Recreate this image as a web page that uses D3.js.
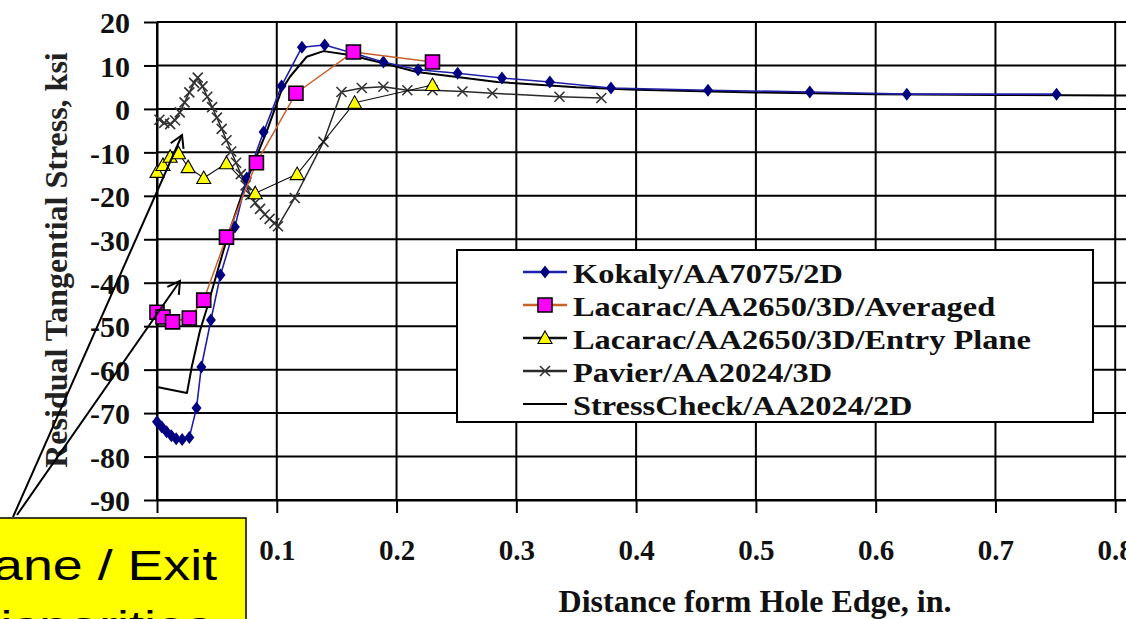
<!DOCTYPE html>
<html>
<head>
<meta charset="utf-8">
<script src="https://cdn.jsdelivr.net/npm/d3@7"></script>
<style>
  html, body { margin: 0; padding: 0; background: #fff; overflow: hidden; }
  svg { display: block; }
</style>
</head>
<body>
<svg id="chart" width="1126" height="619"></svg>
<script>
// Axis ticks
const xTicks = [0, 0.1, 0.2, 0.3, 0.4, 0.5, 0.6, 0.7, 0.8, 0.9];
const xTickLabels = ["", "0.1", "0.2", "0.3", "0.4", "0.5", "0.6", "0.7", "0.8", ""];
const yTicks = [20, 10, 0, -10, -20, -30, -40, -50, -60, -70, -80, -90];

// Kokaly / AA7075 / 2D
const kokalyX = [0.000, 0.004, 0.008, 0.012, 0.016, 0.021, 0.027, 0.033, 0.037, 0.045, 0.053, 0.065, 0.075, 0.089, 0.104, 0.121, 0.140, 0.164, 0.189, 0.218, 0.251, 0.288, 0.328, 0.379, 0.460, 0.545, 0.626, 0.751];
const kokalyY = [-72.0, -73.2, -74.3, -75.2, -75.9, -76.1, -75.6, -68.8, -59.4, -48.6, -38.2, -27.2, -15.9, -5.3, 5.3, 14.2, 14.7, 12.8, 10.8, 9.0, 8.2, 7.1, 6.2, 4.8, 4.3, 3.9, 3.4, 3.4];

// Lacarac / AA2650 / 3D / Averaged
const lacAvgX = [0.000, 0.005, 0.013, 0.027, 0.039, 0.058, 0.083, 0.116, 0.164, 0.230];
const lacAvgY = [-46.8, -47.9, -49.0, -48.1, -44.0, -29.5, -12.4, 3.6, 13.1, 10.8];

// Lacarac / AA2650 / 3D / Entry Plane
const lacEntryX = [0.000, 0.005, 0.011, 0.018, 0.026, 0.039, 0.058, 0.082, 0.117, 0.165, 0.230];
const lacEntryY = [-14.5, -12.9, -11.0, -10.2, -13.4, -15.9, -12.5, -19.4, -15.0, 1.4, 5.5];

// Pavier / AA2024 / 3D
const pavierX = [0.002, 0.006, 0.011, 0.015, 0.019, 0.023, 0.027, 0.031, 0.034, 0.038, 0.042, 0.046, 0.050, 0.054, 0.058, 0.062, 0.066, 0.070, 0.074, 0.078, 0.082, 0.086, 0.090, 0.094, 0.098, 0.101, 0.115, 0.139, 0.154, 0.171, 0.189, 0.209, 0.230, 0.255, 0.280, 0.336, 0.371];
const pavierY = [-2.5, -3.2, -3.5, -2.6, -0.8, 1.5, 3.8, 6.0, 7.2, 5.2, 2.8, 0.4, -2.0, -4.6, -7.2, -9.8, -12.4, -15.0, -17.6, -19.8, -21.6, -23.0, -24.3, -25.3, -26.3, -27.0, -20.5, -7.6, 3.9, 4.8, 5.1, 4.3, 4.3, 4.0, 3.6, 2.8, 2.5];

// StressCheck / AA2024 / 2D
const stressX = [0.000, 0.025, 0.029, 0.036, 0.042, 0.050, 0.058, 0.075, 0.092, 0.104, 0.111, 0.125, 0.139, 0.161, 0.189, 0.217, 0.284, 0.350, 0.400, 0.500, 0.600, 0.700, 0.800, 0.900];
const stressY = [-64.0, -65.4, -59.4, -50.9, -45.6, -37.8, -30.2, -16.4, -4.9, 4.3, 7.4, 12.0, 13.3, 12.4, 10.5, 8.5, 6.2, 5.0, 4.4, 3.8, 3.4, 3.2, 3.1, 3.0];

// Legend labels, in legend order
const seriesNames = [
  "Kokaly/AA7075/2D",
  "Lacarac/AA2650/3D/Averaged",
  "Lacarac/AA2650/3D/Entry Plane",
  "Pavier/AA2024/3D",
  "StressCheck/AA2024/2D"
];

// Callout text
const calloutLines = ["Entry Plane / Exit", "Plane Disparities"];
// Where the callout arrows point, in data units
const arrowTipX = [0.0209, 0.0192];
const arrowTipY = [-6.0, -39.6];

// ---------------------------------------------------------------
const W = 1126, H = 619;
const svg = d3.select("#chart");
const serif = "'Liberation Serif', 'Times New Roman', serif";
const sans = "'Liberation Sans', Arial, sans-serif";

const x = d3.scaleLinear().domain([0, 0.9]).range([157, 1235]);
const y = d3.scaleLinear().domain([-90, 20]).range([500, 22]);

const zip = (xs, ys) => xs.map((v, i) => ({ x: v, y: ys[i] }));

// Marker shapes
const diamondPath = "M0,-6.5L5,0L0,6.5L-5,0Z";
const squarePath = "M-7,-7H7V7H-7Z";
const trianglePath = "M0,-7L7,5.5L-7,5.5Z";
const crossPath = "M-5,-5L5,5M-5,5L5,-5";

const styles = [
  { line: "#1f1fa8", lw: 1.6, marker: diamondPath, fill: "#000080", stroke: "none", sw: 0 },
  { line: "#c8602c", lw: 1.5, marker: squarePath, fill: "#ff00ff", stroke: "#000", sw: 1.6 },
  { line: "#111", lw: 1.1, marker: trianglePath, fill: "#ffff00", stroke: "#000", sw: 1.1 },
  { line: "#2a2a2a", lw: 1.5, marker: crossPath, fill: "none", stroke: "#333", sw: 1.6 },
  { line: "#000", lw: 2.0, marker: null }
];

const series = [
  zip(kokalyX, kokalyY),
  zip(lacAvgX, lacAvgY),
  zip(lacEntryX, lacEntryY),
  zip(pavierX, pavierY),
  zip(stressX, stressY)
];

// ---- gridlines ----
const grid = svg.append("g").attr("stroke", "#000").attr("stroke-width", 2);
grid.selectAll("line.h").data(yTicks).join("line")
  .attr("class", "h")
  .attr("x1", x(0)).attr("x2", W + 10)
  .attr("y1", d => y(d)).attr("y2", d => y(d));
grid.selectAll("line.v").data(xTicks).join("line")
  .attr("class", "v")
  .attr("x1", d => x(d)).attr("x2", d => x(d))
  .attr("y1", y(20)).attr("y2", y(-90));

// ---- axes ----
const yAxis = svg.append("g")
  .attr("transform", `translate(${x(0)},0)`)
  .call(d3.axisLeft(y).tickValues(yTicks).tickSize(13).tickSizeOuter(0).tickPadding(14).tickFormat(d => String(d)));
yAxis.select(".domain").attr("stroke-width", 2);
yAxis.selectAll(".tick line").attr("stroke-width", 2);
yAxis.selectAll("text")
  .attr("font-family", serif).attr("font-weight", "bold").attr("font-size", 30)
  .attr("fill", "#111").attr("dy", "0.36em");

const xAxis = svg.append("g")
  .attr("transform", `translate(0,${y(-90)})`)
  .call(d3.axisBottom(x).tickValues(xTicks).tickSize(13).tickSizeOuter(0).tickPadding(26)
    .tickFormat((d, i) => xTickLabels[i]));
xAxis.select(".domain").attr("stroke-width", 2);
xAxis.selectAll(".tick line").attr("stroke-width", 2);
xAxis.selectAll("text")
  .attr("font-family", serif).attr("font-weight", "bold").attr("font-size", 29)
  .attr("fill", "#111");

// ---- axis titles ----
svg.append("text")
  .attr("x", 755).attr("y", 612)
  .attr("text-anchor", "middle")
  .attr("font-family", serif).attr("font-weight", "bold").attr("font-size", 32)
  .attr("fill", "#111")
  .text("Distance form Hole Edge, in.");

svg.append("text")
  .attr("transform", "translate(67,260) rotate(-90)")
  .attr("text-anchor", "middle")
  .attr("font-family", serif).attr("font-weight", "bold").attr("font-size", 32)
  .attr("fill", "#222")
  .text("Residual Tangential Stress, ksi");

// ---- series (drawn bottom to top) ----
const plot = svg.append("g");
const line = d3.line().x(d => x(d.x)).y(d => y(d.y));
const drawOrder = [4, 3, 2, 0, 1];
drawOrder.forEach(i => {
  const s = styles[i];
  const g = plot.append("g");
  g.append("path")
    .datum(series[i])
    .attr("fill", "none")
    .attr("stroke", s.line)
    .attr("stroke-width", s.lw)
    .attr("stroke-linejoin", "round")
    .attr("d", line);
  if (s.marker) {
    g.selectAll("path.m").data(series[i]).join("path")
      .attr("class", "m")
      .attr("transform", d => `translate(${x(d.x)},${y(d.y)})`)
      .attr("d", s.marker)
      .attr("fill", s.fill)
      .attr("stroke", s.stroke)
      .attr("stroke-width", s.sw);
  }
});

// ---- legend ----
const legend = svg.append("g");
legend.append("rect")
  .attr("x", 457).attr("y", 250).attr("width", 636).attr("height", 172)
  .attr("fill", "#fff").attr("stroke", "#000").attr("stroke-width", 2);
seriesNames.forEach((name, i) => {
  const s = styles[i];
  const cy = 272 + i * 33;
  legend.append("line")
    .attr("x1", 523).attr("x2", 567).attr("y1", cy).attr("y2", cy)
    .attr("stroke", s.line).attr("stroke-width", i === 4 ? 2 : 2.4);
  if (s.marker) {
    legend.append("path")
      .attr("transform", `translate(545,${cy})`)
      .attr("d", s.marker)
      .attr("fill", s.fill)
      .attr("stroke", s.stroke)
      .attr("stroke-width", s.sw);
  }
  legend.append("text")
    .attr("transform", `translate(573,${cy + 11}) scale(1.2,1)`)
    .attr("font-family", serif).attr("font-weight", "bold").attr("font-size", 27)
    .attr("fill", "#111")
    .text(name);
});

// ---- callout with arrows ----
const arrowStarts = [[13, 517], [17, 515]];
const ann = svg.append("g").attr("stroke", "#000").attr("stroke-width", 2).attr("fill", "none");
arrowTipX.forEach((tx, i) => {
  const x1 = x(tx), y1 = y(arrowTipY[i]);
  const [x0, y0] = arrowStarts[i];
  ann.append("line").attr("x1", x0).attr("y1", y0).attr("x2", x1).attr("y2", y1);
  const ang = Math.atan2(y1 - y0, x1 - x0);
  const len = 14, spread = Math.PI / 6;
  const a1 = ang + Math.PI - spread, a2 = ang + Math.PI + spread;
  ann.append("path")
    .attr("d", `M${x1 + len * Math.cos(a1)},${y1 + len * Math.sin(a1)}L${x1},${y1}L${x1 + len * Math.cos(a2)},${y1 + len * Math.sin(a2)}`);
});

const callout = svg.append("g");
callout.append("rect")
  .attr("x", -220).attr("y", 518).attr("width", 466).attr("height", 200)
  .attr("fill", "#ffff00").attr("stroke", "#000").attr("stroke-width", 1.5);
calloutLines.forEach((t, i) => {
  callout.append("text")
    .attr("transform", `translate(11,${580 + i * 61}) scale(1.28,1)`)
    .attr("text-anchor", "middle")
    .attr("font-family", sans).attr("font-size", 42)
    .attr("fill", "#000")
    .text(t);
});
</script>
</body>
</html>
